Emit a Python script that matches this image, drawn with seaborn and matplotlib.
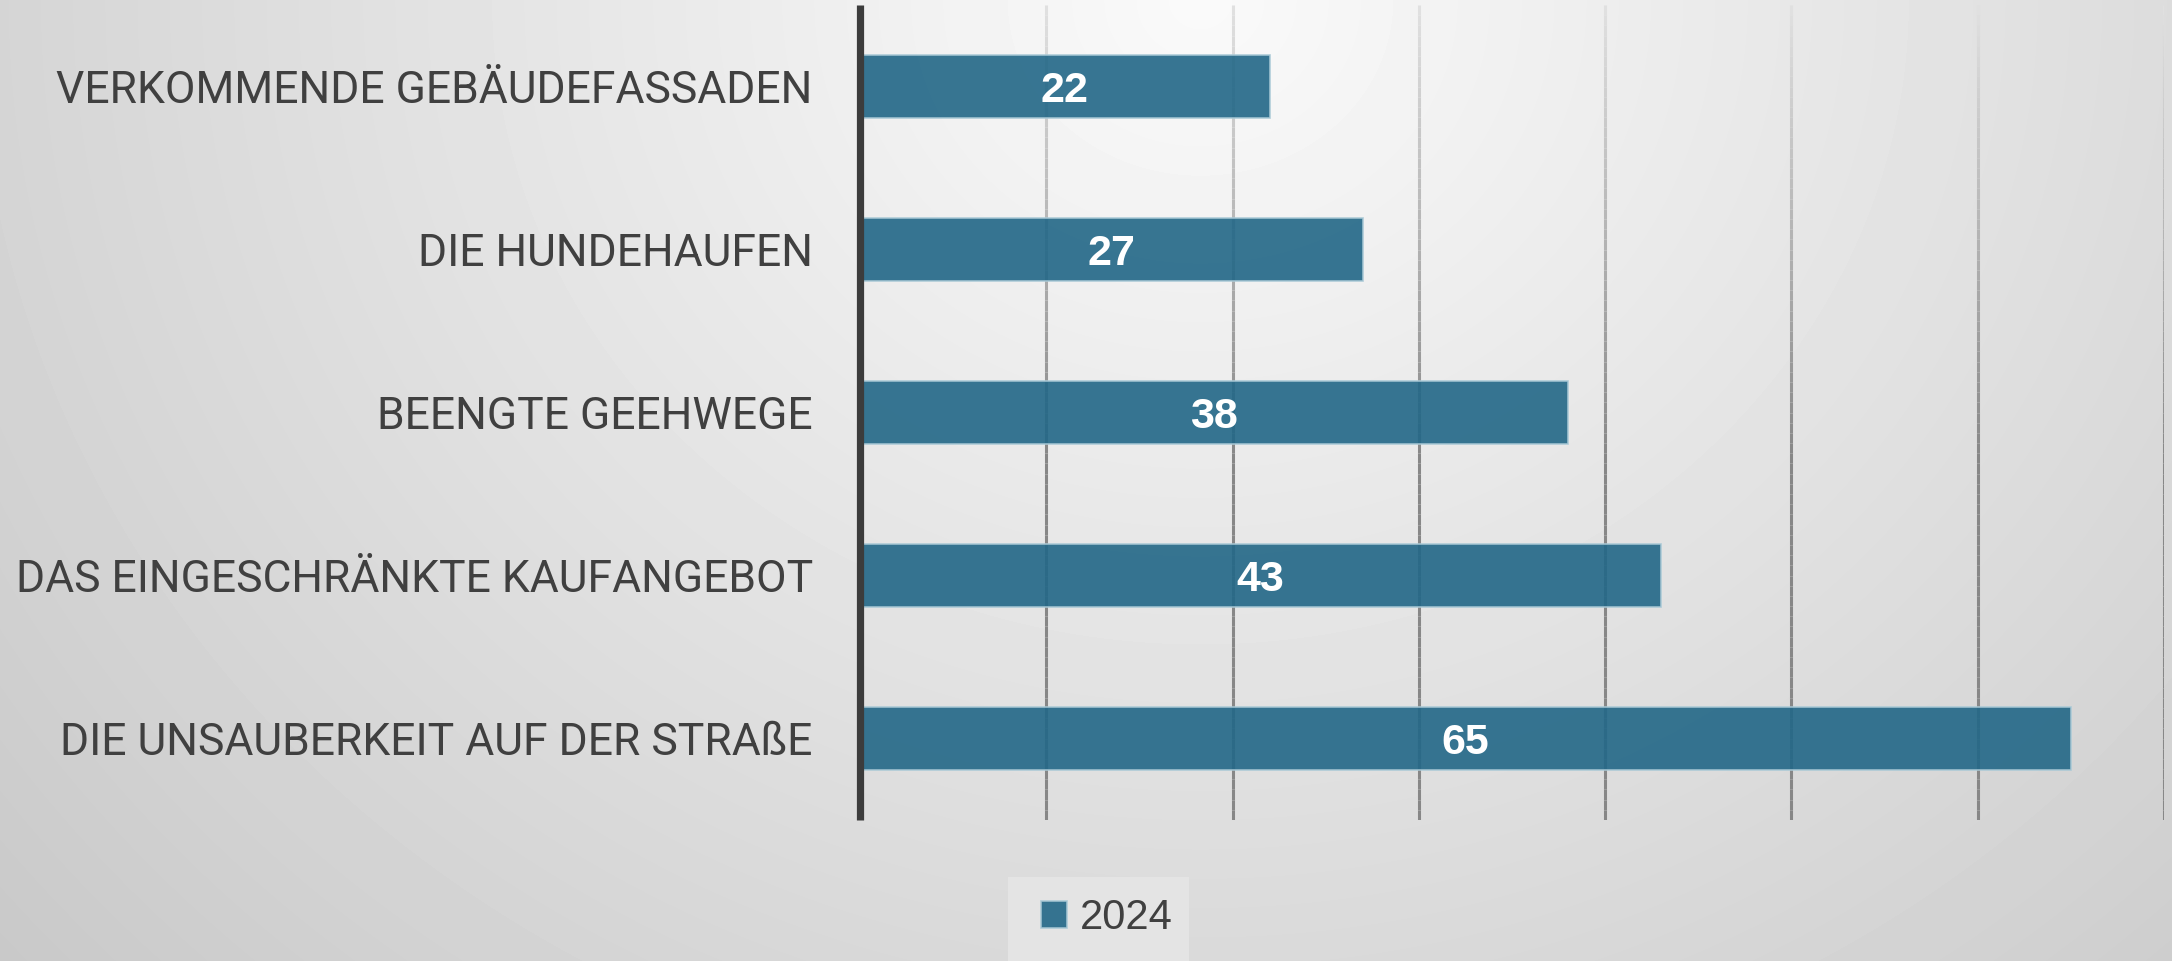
import numpy as np
import pandas as pd
import matplotlib
matplotlib.use("Agg")
import matplotlib.pyplot as plt
from matplotlib.collections import LineCollection
from matplotlib.patches import Rectangle, Patch
import seaborn as sns

# data ---------------------------------------------------------
categories = [
    "VERKOMMENDE GEBÄUDEFASSADEN",
    "DIE HUNDEHAUFEN",
    "BEENGTE GEEHWEGE",
    "DAS EINGESCHRÄNKTE KAUFANGEBOT",
    "DIE UNSAUBERKEIT AUF DER STRAßE",
]
values = [22, 27, 38, 43, 65]
series_name = "2024"
x_ticks = [0, 10, 20, 30, 40, 50, 60, 70]

df = pd.DataFrame({"category": categories, "value": values})

bar_color = "#226787"
text_color = "#404040"

sns.set_theme(style="white")
plt.rcParams["font.family"] = ["Roboto", "DejaVu Sans"]

fig = plt.figure(figsize=(21.72, 9.61), dpi=100)

# soft grey radial background
bg = fig.add_axes([0, 0, 1, 1], zorder=-10)
W, H = 2172, 961
xx, yy = np.meshgrid(np.arange(W), np.arange(H))
r = np.sqrt(((xx - 1200) / 1100.0) ** 2 + (yy / 1000.0) ** 2)
shade = np.clip(250 - 34 * r, 198, 250) / 255.0
bg.imshow(shade, cmap="gray", vmin=0, vmax=1, aspect="auto",
          extent=[0, 1, 0, 1], interpolation="bilinear")
bg.set_axis_off()

ax = fig.add_axes([860 / W, 1 - 820 / H, (2164 - 860) / W, (820 - 5) / H])
ax.patch.set_alpha(0)

sns.barplot(data=df, x="value", y="category", orient="h", ax=ax,
            color=bar_color, width=0.385, saturation=1,
            edgecolor="#a9c9d6", linewidth=1.2, zorder=3)
for p in ax.patches:
    p.set_alpha(0.9)

ax.set_xlim(0, 70)
ax.set_ylim(4.5, -0.5)
ax.set_xticks(x_ticks)
ax.set_xticklabels([])
ax.set_xlabel("")
ax.set_ylabel("")
ax.tick_params(axis="both", length=0)
ax.tick_params(axis="y", pad=34, labelsize=32, labelcolor=text_color)

for s in ["top", "right", "bottom"]:
    ax.spines[s].set_visible(False)
ax.spines["left"].set_color("#3c3c3c")
ax.spines["left"].set_linewidth(5.2)
ax.spines["left"].set_capstyle("butt")
ax.spines["left"].set_zorder(5)

# vertical gridlines fading from light (top) to darker (bottom)
n_seg = 80
ys = np.linspace(-0.5, 4.5, n_seg + 1)
segs, cols = [], []
for xt in x_ticks[1:]:
    for i in range(n_seg):
        t = (ys[i] + 0.5) / 5.0
        g = 0.88 - 0.35 * min(1.0, t / 0.55)
        segs.append([(xt, ys[i]), (xt, ys[i + 1])])
        cols.append((g, g, g))
lc = LineCollection(segs, colors=cols, linewidths=2.2, zorder=1)
ax.add_collection(lc)

labels = ax.bar_label(ax.containers[0], label_type="center", color="white",
                      fontsize=31, fontweight="bold", family="Liberation Sans")
for t in labels:
    t.set_verticalalignment("center_baseline")

# legend box
fig.patches.append(Rectangle((1008 / W, 0), (1189 - 1008) / W, (961 - 877) / H,
                             transform=fig.transFigure, facecolor="#e4e4e4",
                             edgecolor="none", zorder=-5))
handle = Patch(facecolor=bar_color, alpha=0.9, edgecolor="#a9c9d6", linewidth=1.2)
fig.legend([handle], [series_name], loc="center",
           bbox_to_anchor=(1107 / W, 1 - 918 / H), frameon=False,
           prop={"family": "Liberation Sans", "size": 30},
           handlelength=0.62, handleheight=0.62, handletextpad=0.32,
           labelcolor=text_color)

fig.savefig("out.png", dpi=100)
